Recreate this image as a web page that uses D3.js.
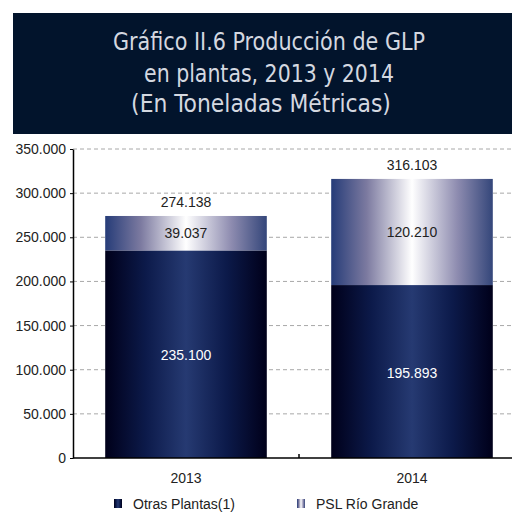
<!DOCTYPE html>
<html><head><meta charset="utf-8">
<script src="https://cdn.jsdelivr.net/npm/d3@7"></script>
<style>body{margin:0;background:#fff}svg{display:block}</style>
</head><body>
<svg id="c" width="512" height="512"></svg>
<script>
const titleLines = ["Gráfico II.6 Producción de GLP","en plantas, 2013 y 2014","(En Toneladas Métricas)"];
const years = ["2013","2014"];
const otras = [235100, 195893];
const psl = [39037, 120210];
const totals = [274138, 316103];
const seriesNames = ["Otras Plantas(1)","PSL Río Grande"];
const yTicks = [0,50000,100000,150000,200000,250000,300000,350000];

const svg = d3.select("#c");
const defs = svg.append("defs");
const g1 = defs.append("linearGradient").attr("id","gDark").attr("x1","0").attr("x2","1").attr("y1","0").attr("y2","0");
[[0,"#00001a"],[0.25,"#0c1a4a"],[0.5,"#263a72"],[0.75,"#0c1a4a"],[1,"#00001a"]].forEach(s=>g1.append("stop").attr("offset",s[0]).attr("stop-color",s[1]));
const g2 = defs.append("linearGradient").attr("id","gLight").attr("x1","0").attr("x2","1").attr("y1","0").attr("y2","0");
[[0,"#263c78"],[0.22,"#7c7aa0"],[0.5,"#ffffff"],[0.78,"#8e8cb0"],[1,"#34467a"]].forEach(s=>g2.append("stop").attr("offset",s[0]).attr("stop-color",s[1]));

// title
svg.append("rect").attr("x",13).attr("y",13).attr("width",499).attr("height",121).attr("fill","#02142c");
const tW = [312, 250, 260];
const tX = [269, 269, 261];
const tY = [50, 82, 112];
svg.append("g").selectAll("text").data(titleLines).join("text")
  .attr("text-anchor","middle")
  .attr("font-family","'DejaVu Sans Condensed','Liberation Sans',sans-serif").attr("font-size",24.5).attr("fill","#d4d8e0")
  .text(d=>d)
  .attr("transform",function(d,i){const w=this.getComputedTextLength();return `translate(${tX[i]},${tY[i]}) scale(${tW[i]/w},1)`;});

const x = d3.scaleBand().domain(years).range([73,525]).paddingInner(0).paddingOuter(0);
const bw = x.bandwidth()*0.715;
const y = d3.scaleLinear().domain([0,350000]).range([458,149]);
const fmt = d => d3.format(",")(d).replace(/,/g,".");

// grid
svg.append("g").selectAll("line").data(yTicks.slice(1)).join("line")
  .attr("x1",73).attr("x2",512).attr("y1",d=>y(d)).attr("y2",d=>y(d))
  .attr("stroke","#a8a8a8").attr("stroke-dasharray","4,3");

// bars
const off = (x.bandwidth()-bw)/2;
svg.append("g").selectAll("rect").data(years).join("rect")
  .attr("x",d=>x(d)+off).attr("width",bw)
  .attr("y",(d,i)=>y(otras[i])).attr("height",(d,i)=>y(0)-y(otras[i])).attr("fill","url(#gDark)");
svg.append("g").selectAll("rect").data(years).join("rect")
  .attr("x",d=>x(d)+off).attr("width",bw)
  .attr("y",(d,i)=>y(otras[i]+psl[i])).attr("height",(d,i)=>y(otras[i])-y(otras[i]+psl[i])).attr("fill","url(#gLight)");

const font = "'Liberation Sans',Arial,sans-serif";
const fs = 14;
const lab = svg.append("g").attr("font-family",font).attr("font-size",fs).attr("text-anchor","middle");
years.forEach((d,i)=>{
  const cx = x(d)+x.bandwidth()/2;
  lab.append("text").attr("x",cx).attr("y",y(otras[i]/2)+6).attr("fill","#fff").text(fmt(otras[i]));
  lab.append("text").attr("x",cx).attr("y",y(otras[i]+psl[i]/2)+5).attr("fill","#222").text(fmt(psl[i]));
  lab.append("text").attr("x",cx).attr("y",y(totals[i])-9).attr("fill","#222").text(fmt(totals[i]));
});

// axes
const ya = svg.append("g").attr("transform","translate(73,0)")
  .call(d3.axisLeft(y).tickValues(yTicks).tickFormat(fmt).tickSize(3).tickSizeOuter(0));
ya.select(".domain").attr("stroke","#000").attr("stroke-width",1.5);
ya.selectAll("text").attr("font-family",font).attr("font-size",fs).attr("fill","#222").attr("dx",-1);
svg.append("line").attr("x1",73).attr("x2",512).attr("y1",458).attr("y2",458).attr("stroke","#000").attr("stroke-width",1.5);
svg.append("line").attr("x1",x("2014")).attr("x2",x("2014")).attr("y1",458).attr("y2",454).attr("stroke","#000").attr("stroke-width",1.5);
svg.append("g").selectAll("text").data(years).join("text")
  .attr("x",d=>x(d)+x.bandwidth()/2).attr("y",483).attr("text-anchor","middle")
  .attr("font-family",font).attr("font-size",fs).attr("fill","#222").text(d=>d);

// legend
const leg = svg.append("g");
const lx = [114,297];
leg.selectAll("rect").data(seriesNames).join("rect").attr("x",(d,i)=>lx[i]).attr("y",499).attr("width",8).attr("height",9)
  .attr("fill",(d,i)=>i?"url(#gLight)":"url(#gDark)");
leg.selectAll("text").data(seriesNames).join("text").attr("x",(d,i)=>lx[i]+19).attr("y",508.5)
  .attr("font-family",font).attr("font-size",fs).attr("fill","#222").text(d=>d);
</script>
</body></html>
